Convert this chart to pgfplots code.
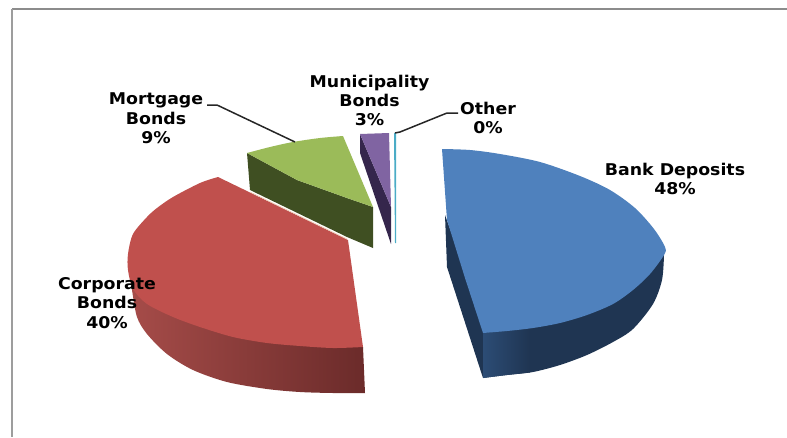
\documentclass[border=0pt]{standalone}
\usepackage{pgfplots}
\pgfplotsset{compat=1.18}
\usepackage{fontspec}
\setmainfont[FakeStretch=1.07]{DejaVu Sans}

\definecolor{bluetop}{HTML}{4F81BD}
\definecolor{blueside}{HTML}{1F3552}
\definecolor{bluelight}{HTML}{2C4C75}
\definecolor{redtop}{HTML}{C0504D}
\definecolor{redleft}{HTML}{A64C49}
\definecolor{redright}{HTML}{6B2B2A}
\definecolor{greentop}{HTML}{9BBB59}
\definecolor{greenside}{HTML}{3F4F22}
\definecolor{purpletop}{HTML}{8064A2}
\definecolor{purpleside}{HTML}{35264C}
\definecolor{tealtop}{HTML}{4BACC6}
\definecolor{framegray}{HTML}{8C8C8C}
\definecolor{edgecream}{HTML}{EBC8AE}

\begin{document}
\begin{tikzpicture}
\begin{axis}[
    scale only axis, width=787pt, height=437pt,
    xmin=0, xmax=787, ymin=0, ymax=437,
    y dir=reverse,
    axis lines=none, clip=true,
    every axis plot/.append style={no markers},
    nodes={font=\fontsize{16.2pt}{19.4pt}\selectfont\bfseries, align=center, text=black},
]
% outer frame
\addplot[framegray, line width=1.4pt] coordinates {(787,9) (12,9)};
\addplot[framegray!85, line width=2.4pt] coordinates {(12,9) (12,437)};

% blue slice
\addplot[fill=blueside, draw=none] coordinates {(445,215) (447,267) (483,378) (490,340)} --cycle;
\addplot[smooth, fill=blueside, draw=none] coordinates {(664,255) (662,280) (653,304) (633,329) (613,342) (587,355) (560,365) (533,372) (507,375) (483,378)} -- (axis cs:483,333) --cycle;
\addplot[smooth, left color=bluelight, right color=blueside, draw=none] coordinates {(530,372.5) (507,375) (483,378)} -- (axis cs:483,333) -- (axis cs:530,328) --cycle;
\addplot[smooth, fill=bluetop, draw=none] coordinates {(442,149) (470,150) (500,154) (540,162) (580,176) (610,190) (635,208) (654,229) (665,247) (664,255) (650,274) (633,290) (613,304) (587,315) (560,323) (533,328) (507,331) (483,333)} -- (axis cs:465,278) -- (axis cs:447,220) --cycle;

% red slice
\addplot[smooth, left color=redleft, right color=redright, draw=none] coordinates {(128,262) (132,290) (137,317) (147,334) (167,354) (193,370) (227,382) (267,389) (300,392) (333,393) (365,393)} -- (axis cs:363,347) --cycle;
\addplot[smooth, fill=redtop, draw=none] coordinates {(218,177) (200,183) (173,197) (157,208) (147,217) (133,234) (128,254) (128,270) (133,289) (147,304) (173,317) (200,327) (233,337) (267,343) (300,346) (333,348) (363,347)} -- (axis cs:348,240) --cycle;

% green slice
\addplot[fill=greenside, draw=none] coordinates {(247,153) (297,180) (347,198) (373,207) (373,248) (347,237) (250,190)} --cycle;
\addplot[smooth, fill=greentop, draw=none] coordinates {(247,153) (270,147) (293,142) (320,138) (343,136)} -- (axis cs:373,207) -- (axis cs:347,198) -- (axis cs:297,180) --cycle;
\addplot[color=edgecream, line width=0.6pt] coordinates {(250,192) (347,239)};

% purple slice
\addplot[fill=purpleside, draw=none] coordinates {(360,134) (391,207) (391,244) (360,153)} --cycle;
\addplot[fill=purpletop, draw=none] coordinates {(360,134) (389,133) (391,207)} --cycle;

% other slice
\addplot[fill=tealtop, draw=none] coordinates {(394,133) (396,133) (396,243) (395,243)} --cycle;

% leader lines
\addplot[black!85, line width=1.5pt] coordinates {(207,105) (217,105) (295,142)};
\addplot[black!85, line width=1.5pt] coordinates {(458,113) (447,113) (400,132) (395,133)};

% labels
\node at (axis cs:156,118.5) {Mortgage\\Bonds\\9\%};
\node at (axis cs:369.5,100.5) {Municipality\\Bonds\\3\%};
\node at (axis cs:488,118) {Other\\0\%};
\node at (axis cs:675,179) {Bank Deposits\\48\%};
\node at (axis cs:107,303) {Corporate\\Bonds\\40\%};
\end{axis}
\path (current axis.south west) rectangle (current axis.north east);
\end{tikzpicture}
\end{document}
